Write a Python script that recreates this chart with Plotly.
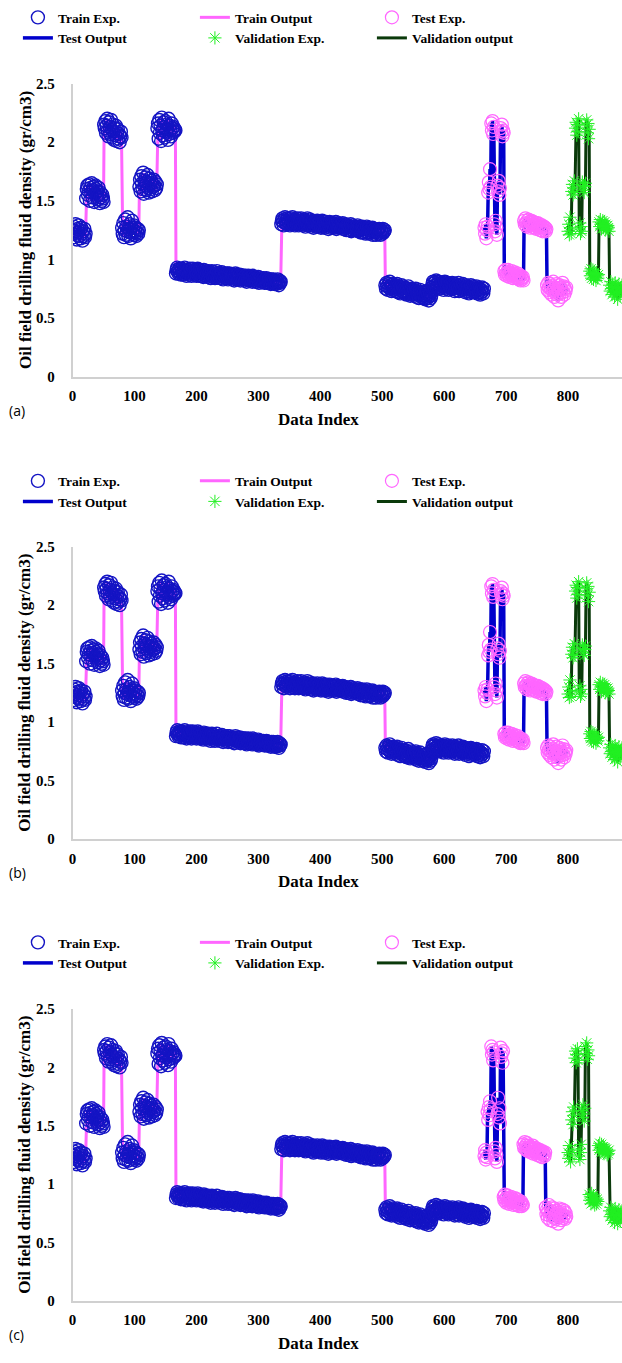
import plotly.graph_objects as go

# ---------------- data ----------------
# Train experimental values, grouped by block (indices 0..664)
train_g1 = [1.25,1.22,1.28,1.19,1.24,1.30,1.21,1.17,1.26,1.23,1.29,1.20,1.25,1.18,1.27,1.22,1.16,1.24,1.20,1.26,1.19,1.22]
train_g2 = [1.52,1.60,1.63,1.55,1.58,1.64,1.50,1.61,1.57,1.65,1.53,1.59,1.62,1.49,1.56,1.63,1.60,1.54,1.58,1.51,1.61,1.55,1.48,1.57,1.53,1.50,1.55,1.52,1.49]
train_g3 = [2.15,2.12,2.18,2.08,2.14,2.20,2.10,2.05,2.17,2.13,2.07,2.19,2.11,2.04,2.15,2.09,2.02,2.12,2.06,2.14,2.01,2.08,2.11,2.03,2.07,2.00,2.05,2.09,2.04]
train_g4 = [1.27,1.22,1.31,1.19,1.25,1.34,1.21,1.28,1.24,1.36,1.20,1.26,1.30,1.23,1.18,1.27,1.33,1.22,1.25,1.29,1.21,1.24,1.27,1.20,1.23,1.26,1.22,1.25]
train_g5 = [1.62,1.68,1.58,1.71,1.65,1.60,1.74,1.56,1.67,1.63,1.70,1.59,1.66,1.72,1.61,1.57,1.69,1.64,1.60,1.67,1.58,1.65,1.62,1.68,1.63,1.59,1.66,1.61,1.64]
train_g6 = [2.12,2.16,2.03,2.19,2.08,2.14,2.01,2.21,2.10,2.06,2.17,2.13,2.04,2.18,2.09,2.15,2.11,2.02,2.20,2.07,2.14,2.10,2.05,2.16,2.12,2.08,2.13,2.09,2.11,2.10]
train_g7 = [
    0.88,0.91,0.93,0.90,0.88,0.92,0.89,0.91,0.87,0.90,
    0.92,0.89,0.87,0.91,0.93,0.88,0.90,0.86,0.89,0.91,
    0.91,0.88,0.92,0.87,0.90,0.86,0.89,0.92,0.88,0.90,
    0.87,0.91,0.89,0.86,0.90,0.92,0.87,0.88,0.91,0.86,
    0.89,0.86,0.90,0.88,0.85,0.91,0.87,0.89,0.86,0.90,
    0.88,0.85,0.90,0.87,0.89,0.86,0.84,0.88,0.90,0.86,
    0.85,0.89,0.87,0.84,0.88,0.86,0.90,0.85,0.87,0.88,
    0.87,0.84,0.88,0.86,0.89,0.85,0.83,0.87,0.86,0.88,
    0.84,0.87,0.85,0.88,0.83,0.86,0.88,0.84,0.86,0.85,
    0.86,0.83,0.87,0.85,0.82,0.86,0.88,0.84,0.85,0.87,
    0.83,0.86,0.84,0.87,0.82,0.85,0.83,0.86,0.84,0.86,
    0.85,0.82,0.86,0.84,0.81,0.85,0.83,0.86,0.82,0.84,
    0.82,0.85,0.83,0.81,0.86,0.84,0.82,0.85,0.83,0.81,
    0.84,0.81,0.83,0.85,0.80,0.83,0.82,0.84,0.81,0.83,
    0.81,0.84,0.82,0.80,0.83,0.81,0.84,0.80,0.82,0.83,
    0.83,0.80,0.82,0.79,0.83,0.81,0.80,0.83,0.81,0.79,
    0.80,0.82,0.79,0.81,0.83,0.80,0.78,0.82,0.80,0.81]
train_g8 = [
    1.30,1.33,1.35,1.32,1.29,1.34,1.36,1.31,1.33,1.30,1.35,1.32,
    1.34,1.31,1.29,1.35,1.32,1.30,1.36,1.33,1.31,1.34,1.29,1.32,
    1.33,1.30,1.35,1.31,1.29,1.34,1.32,1.30,1.35,1.31,1.33,1.29,
    1.32,1.34,1.30,1.28,1.33,1.31,1.35,1.29,1.32,1.30,1.34,1.31,
    1.28,1.32,1.30,1.33,1.27,1.31,1.29,1.32,1.28,1.30,1.33,1.29,
    1.31,1.28,1.32,1.29,1.27,1.31,1.33,1.28,1.30,1.32,1.27,1.30,
    1.29,1.32,1.28,1.31,1.26,1.30,1.32,1.27,1.29,1.31,1.28,1.30,
    1.31,1.27,1.30,1.28,1.32,1.26,1.29,1.31,1.27,1.30,1.28,1.29,
    1.27,1.30,1.28,1.31,1.26,1.29,1.27,1.30,1.28,1.25,1.29,1.28,
    1.29,1.25,1.28,1.26,1.30,1.24,1.27,1.29,1.25,1.28,1.26,1.27,
    1.25,1.28,1.26,1.29,1.24,1.27,1.25,1.28,1.23,1.27,1.26,1.28,
    1.26,1.23,1.27,1.24,1.22,1.26,1.28,1.23,1.25,1.27,1.22,1.25,
    1.23,1.26,1.24,1.27,1.21,1.25,1.23,1.26,1.24,1.21,1.25,1.24,
    1.25,1.22,1.26,1.23,1.21,1.25,1.24,1.22,1.26,1.23,1.24,1.25]
train_g9 = [
    0.78,0.75,0.80,0.77,0.74,0.79,0.76,0.81,0.75,0.78,0.73,0.77,0.79,0.74,0.76,
    0.75,0.78,0.73,0.76,0.79,0.72,0.77,0.74,0.76,0.71,0.75,0.78,0.73,0.76,0.72,
    0.74,0.71,0.76,0.73,0.70,0.75,0.72,0.77,0.71,0.74,0.69,0.73,0.75,0.70,0.72,
    0.71,0.74,0.69,0.72,0.75,0.68,0.73,0.70,0.72,0.67,0.71,0.74,0.69,0.72,0.68,
    0.70,0.67,0.72,0.69,0.66,0.71,0.68,0.73,0.67,0.70,0.65,0.69,0.71,0.67,0.69]
train_g10 = [
    0.76,0.79,0.81,0.77,0.80,0.75,0.78,0.82,0.76,0.79,0.77,0.81,0.75,0.78,0.80,0.76,0.79,
    0.77,0.80,0.74,0.78,0.81,0.76,0.79,0.75,0.77,0.80,0.74,0.78,0.76,0.79,0.75,0.77,0.80,
    0.75,0.78,0.76,0.73,0.79,0.77,0.74,0.78,0.76,0.80,0.73,0.77,0.75,0.78,0.74,0.76,0.79,
    0.74,0.77,0.75,0.72,0.78,0.76,0.73,0.77,0.75,0.71,0.76,0.74,0.78,0.72,0.75,0.77,0.73,
    0.76,0.72,0.75,0.73,0.77,0.71,0.74,0.76,0.72,0.75,0.70,0.74,0.72,0.76,0.73,0.71,0.75]

# Test experimental values, panels (a) and (b)
test_ab_spikes = [1.27,1.22,1.30,1.18,1.25,1.28,
                  1.57,1.66,1.60,1.77,1.62,
                  2.16,2.10,2.18,2.07,2.13,
                  1.30,1.24,1.33,1.27,1.21,
                  1.63,1.58,1.67,1.55,1.61,
                  2.12,2.09,2.15,2.05,2.10,2.08]
test_ab_low1 = [0.90,0.87,0.91,0.88,0.86,0.89,0.91,0.87,0.85,0.89,0.88,0.86,0.90,0.87,0.84,0.88,
                0.86,0.89,0.85,0.87,0.84,0.86,0.88,0.83,0.86,0.85,0.82,0.86,0.84,0.83,0.85,0.82]
test_ab_mid = [1.33,1.30,1.35,1.31,1.28,1.33,1.30,1.34,1.29,1.32,1.27,1.31,1.33,1.28,1.30,1.32,1.27,1.30,1.29,
               1.31,1.26,1.29,1.31,1.27,1.28,1.30,1.25,1.28,1.27,1.29,1.24,1.27,1.28,1.25,1.27,1.24,1.26]
test_ab_low2 = [0.78,0.74,0.80,0.76,0.72,0.79,0.75,0.70,0.77,0.73,0.81,0.74,0.68,0.76,0.72,0.79,
                0.70,0.75,0.65,0.73,0.78,0.71,0.76,0.68,0.74,0.80,0.72,0.77,0.70,0.75,0.73,0.76]

# Validation experimental values, panels (a) and (b)
val_ab_spikes = [1.24,1.30,1.21,1.36,1.27,1.22,
                 1.58,1.64,1.55,1.61,1.67,1.57,
                 2.12,2.17,2.06,2.15,2.09,2.20,
                 1.26,1.31,1.22,1.28,1.24,
                 1.66,1.59,1.63,1.57,1.62,1.65,
                 2.14,2.19,2.08,2.16,2.03,2.11]
val_ab_low1 = [0.90,0.86,0.92,0.84,0.88,0.91,0.83,0.87,0.89,0.85,0.82,0.88,0.86,0.84,0.87]
val_ab_mid = [1.32,1.28,1.34,1.30,1.26,1.31,1.33,1.27,1.29,1.32,1.25,1.30,1.28,1.26,1.29,1.27,1.24]
val_ab_low2 = [0.78,0.73,0.81,0.75,0.70,0.79,0.72,0.76,0.68,0.80,0.74,0.71,0.77,0.66,0.75,0.79,0.72,0.69,0.76,0.73,0.78]

# Test experimental values, panel (c)
test_c_spikes = [1.24,1.29,1.21,1.27,1.23,
                 1.62,1.55,1.66,1.59,1.71,1.64,
                 2.18,2.11,2.15,2.06,2.13,
                 1.28,1.22,1.31,1.25,1.19,
                 1.60,1.74,1.57,1.65,1.52,
                 2.17,2.09,2.12,2.04,2.14]
test_c_low1 = [0.89,0.86,0.91,0.87,0.84,0.88,0.90,0.85,0.87,0.83,0.88,0.86,0.89,0.84,0.87,0.85,
               0.82,0.86,0.88,0.83,0.85,0.87,0.82,0.84,0.86,0.81,0.84,0.83,0.85,0.81,0.83,0.82]
test_c_mid = [1.34,1.31,1.36,1.30,1.33,1.29,1.35,1.31,1.28,1.33,1.30,1.32,1.27,1.31,1.29,1.33,1.26,1.30,
              1.28,1.31,1.27,1.29,1.25,1.30,1.27,1.28,1.24,1.29,1.26,1.27,1.23,1.28,1.25,1.26,1.24,1.27]
test_c_low2 = [0.80,0.74,0.78,0.71,0.76,0.82,0.73,0.69,0.77,0.75,0.80,0.72,0.68,0.76,0.79,0.71,0.74,
               0.70,0.77,0.73,0.66,0.75,0.79,0.72,0.76,0.69,0.74,0.78,0.71,0.73,0.77,0.70,0.75,0.72]

# Validation experimental values, panel (c)
val_c_spikes = [1.27,1.22,1.33,1.25,1.19,1.29,
                1.55,1.62,1.51,1.66,1.59,
                2.08,2.14,2.04,2.11,2.16,2.06,
                1.24,1.30,1.21,1.27,1.34,
                1.63,1.57,1.68,1.60,1.54,1.65,
                2.18,2.12,2.21,2.07,2.15,2.10]
val_c_low1 = [0.91,0.86,0.89,0.83,0.92,0.87,0.84,0.90,0.85,0.82,0.88,0.86,0.83,0.87,0.85]
val_c_mid = [1.33,1.29,1.35,1.31,1.27,1.34,1.30,1.28,1.32,1.26,1.31,1.29,1.27,1.30,1.25,1.28,1.26,1.29]
val_c_low2 = [0.77,0.72,0.80,0.74,0.69,0.78,0.71,0.76,0.67,0.79,0.73,0.70,0.75,0.66,0.74,0.78,0.71,0.68,0.76,0.72,0.77]

train_start, test_start, val_start = 0, 665, 800
x_ticks = [0, 100, 200, 300, 400, 500, 600, 700, 800]
y_ticks = [0, 0.5, 1, 1.5, 2, 2.5]
y_tick_text = ["0", "0.5", "1", "1.5", "2", "2.5"]
panel_labels = ["(a)", "(b)", "(c)"]

# ---------------- assemble ----------------
train_exp = (train_g1 + train_g2 + train_g3 + train_g4 + train_g5 +
             train_g6 + train_g7 + train_g8 + train_g9 + train_g10)
test_ab = test_ab_spikes + test_ab_low1 + test_ab_mid + test_ab_low2
val_ab = val_ab_spikes + val_ab_low1 + val_ab_mid + val_ab_low2
test_c = test_c_spikes + test_c_low1 + test_c_mid + test_c_low2
val_c = val_c_spikes + val_c_low1 + val_c_mid + val_c_low2

train_idx = list(range(train_start, train_start + len(train_exp)))
test_idx = list(range(test_start, test_start + len(test_ab)))
val_idx = list(range(val_start, val_start + len(val_ab)))

panels = [(train_exp, test_ab, val_ab), (train_exp, test_ab, val_ab), (train_exp, test_c, val_c)]

W, H = 622, 1363
plot_left = 69
tops = [76.5, 545, 1013]
bottoms = [373, 841, 1308]
legend_tops = [-6, 463, 930]

SERIF = "Liberation Serif"
BLUE_C = "#1414C4"
PINK = "#FF66FF"
BLUE_L = "#0000CC"
GREEN = "#22F022"
DKGREEN = "#0B3A0B"

fig = go.Figure()
layout = dict(width=W, height=H, margin=dict(l=0, r=0, t=0, b=0),
              paper_bgcolor="white", plot_bgcolor="white", showlegend=True)
annotations = []

for k, (tr, te, va) in enumerate(panels):
    n = k + 1
    xa = "x" if n == 1 else f"x{n}"
    ya = "y" if n == 1 else f"y{n}"
    lg = "legend" if n == 1 else f"legend{n}"
    common = dict(xaxis=xa, yaxis=ya, legend=lg)
    # lines first (drawn underneath), markers on top; legend order by rank
    fig.add_trace(go.Scatter(x=train_idx, y=tr, mode="lines", name="Train Output",
                             line=dict(color=PINK, width=3), legendrank=2, **common))
    fig.add_trace(go.Scatter(x=test_idx, y=te, mode="lines", name="Test Output",
                             line=dict(color=BLUE_L, width=3.5), legendrank=4, **common))
    fig.add_trace(go.Scatter(x=val_idx, y=va, mode="lines", name="Validation output",
                             line=dict(color=DKGREEN, width=3), legendrank=6, **common))
    fig.add_trace(go.Scatter(x=train_idx, y=tr, mode="markers", name="Train Exp.",
                             marker=dict(symbol="circle-open", size=13, color=BLUE_C,
                                         line=dict(width=1.4, color=BLUE_C)),
                             legendrank=1, **common))
    fig.add_trace(go.Scatter(x=test_idx, y=te, mode="markers", name="Test Exp.",
                             marker=dict(symbol="circle-open", size=13, color=PINK,
                                         line=dict(width=1.2, color=PINK)),
                             legendrank=3, **common))
    fig.add_trace(go.Scatter(x=val_idx, y=va, mode="markers", name="Validation Exp.",
                             marker=dict(symbol="asterisk-open", size=11, color=GREEN,
                                         line=dict(width=1, color=GREEN)),
                             legendrank=5, **common))

    top, bot = tops[k], bottoms[k]
    xkey = "xaxis" if n == 1 else f"xaxis{n}"
    ykey = "yaxis" if n == 1 else f"yaxis{n}"
    layout[xkey] = dict(domain=[plot_left / W, 1], range=[0, 887], anchor=ya,
                        tickvals=x_ticks, showgrid=False, zeroline=False,
                        showline=True, linecolor="#D0D0D0", linewidth=1.5, ticks="",
                        ticklabelstandoff=5,
                        tickfont=dict(family=SERIF, size=15, color="black", weight="bold"))
    layout[ykey] = dict(domain=[1 - bot / H, 1 - top / H], range=[0, 2.5], anchor=xa,
                        tickvals=y_ticks, ticktext=y_tick_text, showgrid=False, zeroline=False,
                        showline=True, linecolor="#D0D0D0", linewidth=1.5, ticks="",
                        ticklabelstandoff=13,
                        tickfont=dict(family=SERIF, size=15, color="black", weight="bold"))
    layout[lg] = dict(orientation="h", x=14 / W, xanchor="left",
                      y=1 - legend_tops[k] / H, yanchor="top",
                      entrywidth=132, bgcolor="rgba(0,0,0,0)",
                      font=dict(family=SERIF, size=13.5, color="black", weight="bold"))

    annotations.append(dict(text="Oil field drilling fluid density (gr/cm3)", textangle=-90,
                            x=21 / W, y=1 - (top + bot) / 2 / H, xref="paper", yref="paper",
                            showarrow=False, xanchor="center", yanchor="middle",
                            font=dict(family=SERIF, size=17, color="black", weight="bold")))
    annotations.append(dict(text="Data Index", x=317 / W, y=1 - (bot + 43) / H,
                            xref="paper", yref="paper", showarrow=False,
                            xanchor="center", yanchor="middle",
                            font=dict(family=SERIF, size=17, color="black", weight="bold")))
    annotations.append(dict(text=panel_labels[k], x=3 / W, y=1 - (bot + 34) / H,
                            xref="paper", yref="paper", showarrow=False,
                            xanchor="left", yanchor="middle",
                            font=dict(family="Open Sans", size=14, color="black")))

layout["annotations"] = annotations
fig.update_layout(**layout)
fig.write_html("out.html")
